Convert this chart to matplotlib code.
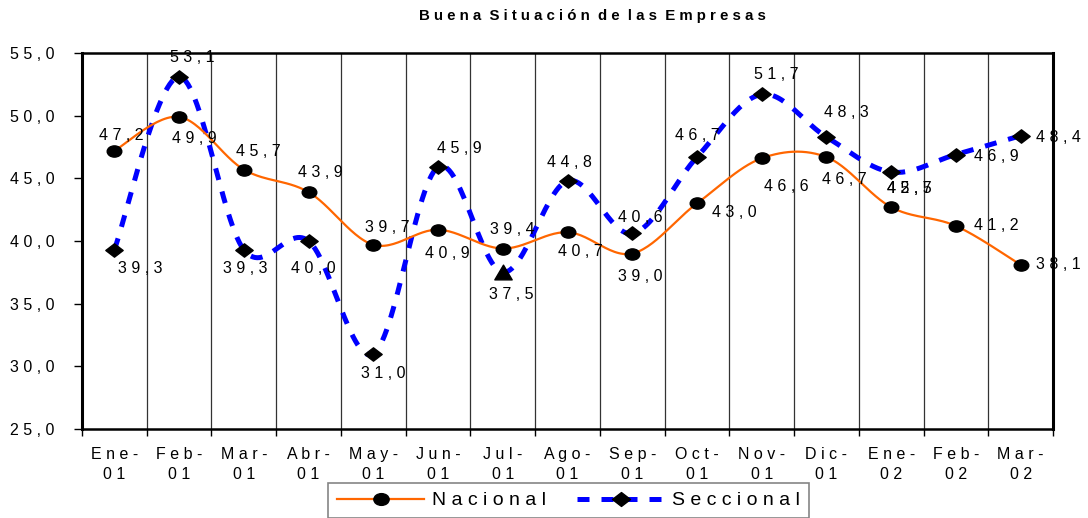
import numpy as np
import matplotlib
matplotlib.use("Agg")
import matplotlib.pyplot as plt
from matplotlib.path import Path
from matplotlib.ticker import FixedLocator, NullFormatter

plt.rcParams['font.family'] = ['Liberation Sans', 'DejaVu Sans']

months = ['Ene-01', 'Feb-01', 'Mar-01', 'Abr-01', 'May-01', 'Jun-01', 'Jul-01',
          'Ago-01', 'Sep-01', 'Oct-01', 'Nov-01', 'Dic-01', 'Ene-02', 'Feb-02', 'Mar-02']
nacional = [47.2, 49.9, 45.7, 43.9, 39.7, 40.9, 39.4, 40.7, 39.0, 43.0, 46.6, 46.7, 42.7, 41.2, 38.1]
seccional = [39.3, 53.1, 39.3, 40.0, 31.0, 45.9, 37.5, 44.8, 40.6, 46.7, 51.7, 48.3, 45.5, 46.9, 48.4]

# label offsets in pixels (dx, dy), dy positive = up
nac_off = [(7, 15), (15, -22), (14, 18), (12, 20), (14, 17), (9, -24), (10, 19), (13, -19),
           (8, -23), (37, -9), (25, -28), (18, -22), (18, 19), (40, 0), (38, 0)]
sec_off = [(26, -19), (13, 19), (1, -19), (5, -27), (10, -20), (21, 19), (8, -22), (2, 18),
           (8, 16), (0, 22), (15, 20), (20, 24), (18, -16), (40, -2), (38, -2)]


def spaced(s, word_gap='  '):
    return word_gap.join(' '.join(w) for w in s.split(' '))


def fmt(v):
    return spaced(f'{v:.1f}'.replace('.', ','))


def smooth(x, y, n=30):
    # cubic bezier through the points, like a spreadsheet "smoothed line"
    p = np.column_stack([x, y]).astype(float)
    pp = np.vstack([p[0], p, p[-1]])
    out = []
    t = np.linspace(0, 1, n)[:, None]
    for i in range(len(p) - 1):
        p0, p3 = pp[i + 1], pp[i + 2]
        c1 = p0 + (pp[i + 2] - pp[i]) / 6
        c2 = p3 - (pp[i + 3] - pp[i + 1]) / 6
        seg = ((1 - t) ** 3) * p0 + 3 * ((1 - t) ** 2) * t * c1 + 3 * (1 - t) * t ** 2 * c2 + t ** 3 * p3
        out.append(seg if i == 0 else seg[1:])
    s = np.vstack(out)
    return s[:, 0], s[:, 1]


ellipse = Path(Path.unit_circle().vertices * [1.3, 1.0], Path.unit_circle().codes)
diamond = Path([(0, 1), (1.3, 0), (0, -1), (-1.3, 0), (0, 1)],
               [Path.MOVETO, Path.LINETO, Path.LINETO, Path.LINETO, Path.CLOSEPOLY])
triangle = Path([(0, 0.85), (1.0, -0.85), (-1.0, -0.85), (0, 0.85)],
                [Path.MOVETO, Path.LINETO, Path.LINETO, Path.CLOSEPOLY])

fig = plt.figure(figsize=(10.88, 5.18), dpi=100)
ax = fig.add_axes([82 / 1088, 1 - 429 / 518, (1053 - 82) / 1088, (429 - 53) / 518])

x = np.arange(len(months))
orange = '#FF6600'
blue = '#0000FF'

# vertical separators between categories
for b in x[:-1] + 0.5:
    ax.axvline(b, color='#333333', lw=0.9, zorder=1)

sx, sy = smooth(x, seccional)
ax.plot(sx, sy, color=blue, lw=3.6, linestyle=(0, (2.4, 2.4)), zorder=2)
nx, ny = smooth(x, nacional)
ax.plot(nx, ny, color=orange, lw=1.6, zorder=3)

ax.plot(x, nacional, linestyle='none', marker=ellipse, ms=10.5, color='black', zorder=4)
sec_markers = [triangle if m == 'Jul-01' else diamond for m in months]
for xi, v, mk in zip(x, seccional, sec_markers):
    ax.plot(xi, v, linestyle='none', marker=mk, ms=12.5, color='black', zorder=4)

for xi, v, (dx, dy) in zip(x, nacional, nac_off):
    ax.annotate(fmt(v), (xi, v), xytext=(dx, dy), textcoords='offset pixels',
                ha='center', va='center', fontsize=11.5, color='black', zorder=5)
for xi, v, (dx, dy) in zip(x, seccional, sec_off):
    ax.annotate(fmt(v), (xi, v), xytext=(dx, dy), textcoords='offset pixels',
                ha='center', va='center', fontsize=11.5, color='black', zorder=5,
                annotation_clip=False)

ax.set_xlim(-0.5, len(months) - 0.5)
ax.set_ylim(25, 55)
ax.set_yticks(np.arange(25, 56, 5))
ax.set_yticklabels([fmt(v) for v in np.arange(25, 56, 5)])
ax.tick_params(axis='y', length=6, width=1, pad=14, labelsize=11.5, direction='out')

ax.set_xticks(x)
ax.set_xticklabels([spaced(m.split('-')[0] + '-') + '\n' + spaced(m.split('-')[1]) for m in months],
                   linespacing=1.45)
ax.tick_params(axis='x', which='major', length=0, pad=13, labelsize=11.5)
ax.xaxis.set_minor_locator(FixedLocator(np.arange(-0.5, len(months), 1.0)))
ax.xaxis.set_minor_formatter(NullFormatter())
ax.tick_params(axis='x', which='minor', length=5, width=1, direction='out')

for side in ['left', 'right']:
    ax.spines[side].set_linewidth(2.2)
for side in ['top', 'bottom']:
    ax.spines[side].set_linewidth(1.8)

fig.text(592 / 1088, 1 - 16 / 518, spaced('Buena Situación de las Empresas'),
         ha='center', va='center', fontsize=10.8, fontweight='bold')

h1, = ax.plot([], [], color=orange, lw=1.6, marker=ellipse, ms=11, mfc='black', mec='black')
h2, = ax.plot([], [], color=blue, lw=3.6, linestyle=(0, (2.4, 2.4)), marker=diamond, ms=13,
              mfc='black', mec='black')
leg = fig.legend([h1, h2], [spaced('Nacional'), spaced('Seccional')], ncol=2,
                 loc='upper left', bbox_to_anchor=(328 / 1088, 1 - 483 / 518),
                 fontsize=14, frameon=True, fancybox=False, handlelength=4.5,
                 handletextpad=0.4, columnspacing=1.6, borderpad=0.45, borderaxespad=0)
leg.get_frame().set_edgecolor('#666666')
leg.get_frame().set_linewidth(1.2)

fig.savefig('out.png', dpi=100)
